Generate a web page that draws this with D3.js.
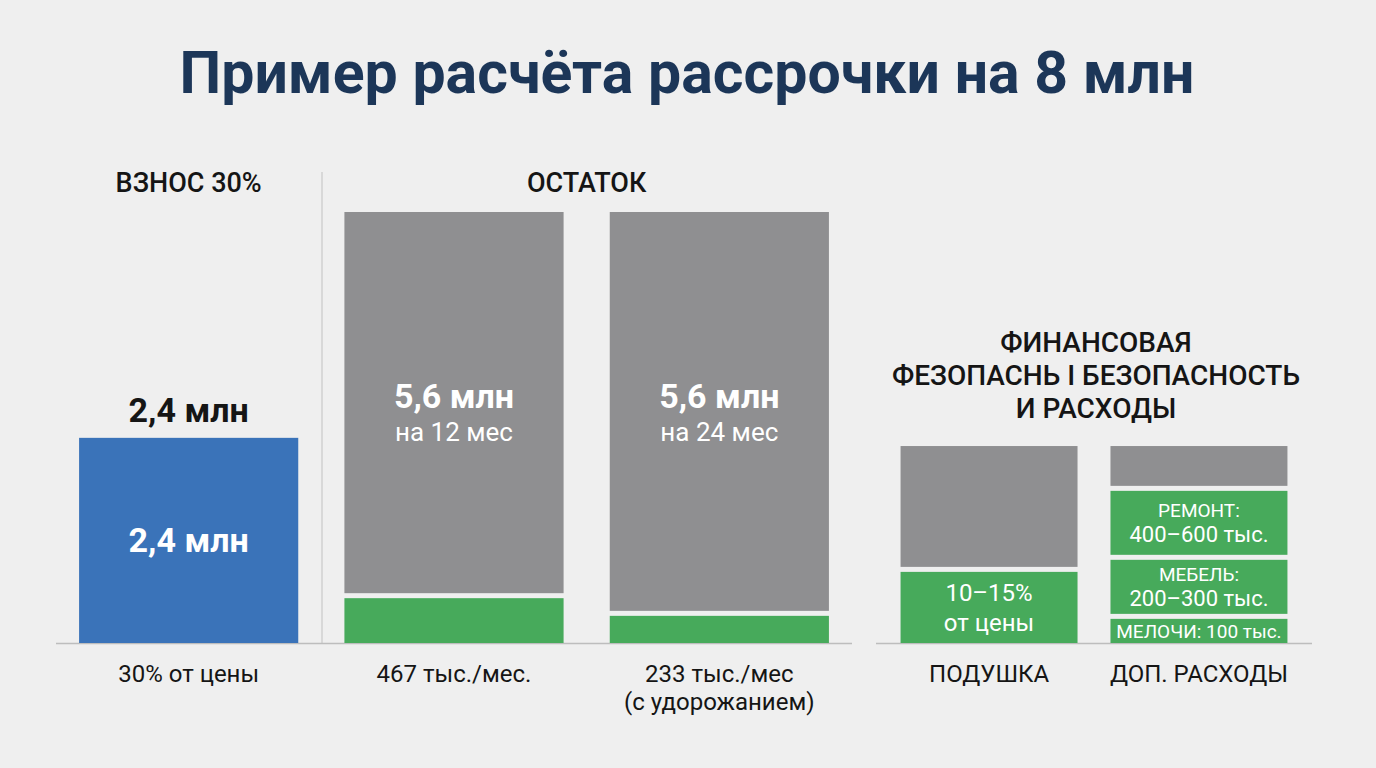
<!DOCTYPE html>
<html>
<head>
<meta charset="utf-8">
<script src="https://cdn.jsdelivr.net/npm/d3@7"></script>
<style>
    body { margin: 0; background: #efefef; }
    svg { display: block; font-family: Roboto, "Noto Sans", sans-serif; }
</style>
</head>
<body>
<svg id="chart" width="1376" height="768"></svg>
<script>
const title = "Пример расчёта рассрочки на 8 млн";

const paymentBars = ["vznos", "rest12", "rest24"];
const paymentHeaders = ["ВЗНОС 30%", "ОСТАТОК"];
const vznosSegments = [47.6];
const rest12Segments = [10.4, 89.6];
const rest24Segments = [6.3, 93.7];
const vznosTopLabel = "2,4 млн";
const vznosLabels = [["2,4 млн"]];
const rest12Labels = [null, ["5,6 млн", "на 12 мес"]];
const rest24Labels = [null, ["5,6 млн", "на 24 мес"]];
const paymentBottom = [["30% от цены"], ["467 тыс./мес."], ["233 тыс./мес", "(с удорожанием)"]];

const reserveBars = ["cushion", "extra"];
const reserveHeader = ["ФИНАНСОВАЯ", "ФЕЗОПАСНЬ І БЕЗОПАСНОСТЬ", "И РАСХОДЫ"];
const cushionSegments = [16.5, 29.2];
const extraSegments = [5.6, 13.7, 16.0, 10.4];
const cushionLabels = [["10–15%", "от цены"], null];
const extraLabels = [["МЕЛОЧИ: 100 тыс."], ["МЕБЕЛЬ:", "200–300 тыс."], ["РЕМОНТ:", "400–600 тыс."], null];
const reserveBottom = ["ПОДУШКА", "ДОП. РАСХОДЫ"];

const colors = { blue: "#3a73b9", gray: "#8f8f91", green: "#47aa5b" };

const svg = d3.select('#chart');
const baseY = 643, gap = 5;

const y = d3.scaleLinear().domain([0, 100]).range([baseY, 212]);

const xPay = d3.scaleBand()
    .domain(paymentBars)
    .range([56, 852])
    .paddingInner(0.174)
    .paddingOuter(0.087);

const xRes = d3.scaleBand()
    .domain(reserveBars)
    .range([876, 1312])
    .paddingInner(0.157)
    .paddingOuter(0.117);

// Title
svg.append('text')
    .attr('x', 687).attr('y', 93)
    .attr('text-anchor', 'middle')
    .style('font-size', '59px').style('font-weight', 700)
    .style('fill', '#1c3658')
    .text(title);

// Separator between payment and remainder
svg.append('line')
    .attr('x1', 322).attr('x2', 322)
    .attr('y1', 172).attr('y2', baseY)
    .attr('stroke', '#d0d0d0').attr('stroke-width', 1.5);

// Baselines
[xPay, xRes].forEach(sc => {
    svg.append('line')
        .attr('x1', sc.range()[0]).attr('x2', sc.range()[1])
        .attr('y1', baseY + 0.5).attr('y2', baseY + 0.5)
        .attr('stroke', '#bdbdbd').attr('stroke-width', 1.5);
});

// line styles per label kind
const styles = {
    value: [{ size: 34, weight: 700 }, { size: 26, weight: 400 }],
    cushion: [{ size: 24, weight: 400 }, { size: 24, weight: 400 }],
    extra: [{ size: 19, weight: 400 }, { size: 22, weight: 400 }]
};
const lineGap = { value: 33, cushion: 30, extra: 25 };

function drawStack(xScale, key, segments, segColors, labels, kind) {
    const g = svg.append('g');
    let acc = 0;
    segments.forEach((v, i) => {
        const y0 = acc, y1 = acc + v;
        acc = y1;
        const bottom = y(y0) - (i > 0 ? gap : 0);
        const top = y(y1);
        g.append('rect')
            .attr('x', xScale(key))
            .attr('width', xScale.bandwidth())
            .attr('y', top)
            .attr('height', bottom - top)
            .attr('fill', colors[segColors[i]]);

        const lines = labels && labels[i];
        if (!lines) return;
        const st = styles[kind];
        const cx = xScale(key) + xScale.bandwidth() / 2;
        const cy = (top + bottom) / 2;
        const cap0 = st[0].size * 0.71;
        let b1;
        if (bottom - top > 300) {
            // tall bars: text hangs at a fixed distance from the top
            b1 = top + 196;
        } else if (lines.length === 1) {
            b1 = cy + cap0 / 2;
        } else {
            b1 = cy - (lineGap[kind] - cap0) / 2;
        }
        lines.forEach((t, j) => {
            g.append('text')
                .attr('x', cx)
                .attr('y', b1 + j * lineGap[kind])
                .attr('text-anchor', 'middle')
                .style('font-size', st[j].size + 'px')
                .style('font-weight', st[j].weight)
                .style('fill', '#fff')
                .text(t);
        });
    });
    return acc;
}

const vznosTop = drawStack(xPay, 'vznos', vznosSegments, ['blue'], vznosLabels, 'value');
drawStack(xPay, 'rest12', rest12Segments, ['green', 'gray'], rest12Labels, 'value');
drawStack(xPay, 'rest24', rest24Segments, ['green', 'gray'], rest24Labels, 'value');
drawStack(xRes, 'cushion', cushionSegments, ['green', 'gray'], cushionLabels, 'cushion');
drawStack(xRes, 'extra', extraSegments, ['green', 'green', 'green', 'gray'], extraLabels, 'extra');

// Value above the down-payment bar
svg.append('text')
    .attr('x', xPay('vznos') + xPay.bandwidth() / 2)
    .attr('y', y(vznosTop) - 16)
    .attr('text-anchor', 'middle')
    .style('font-size', '34px').style('font-weight', 700)
    .style('fill', '#151515')
    .text(vznosTopLabel);

// Group headers
const headerStyle = (sel, size) => sel
    .attr('text-anchor', 'middle')
    .style('font-size', size + 'px').style('font-weight', 500)
    .style('fill', '#151515');

svg.append('text')
    .attr('x', xPay('vznos') + xPay.bandwidth() / 2).attr('y', 192)
    .call(headerStyle, 27).text(paymentHeaders[0]);

svg.append('text')
    .attr('x', (xPay('rest12') + xPay('rest24') + xPay.bandwidth()) / 2).attr('y', 192)
    .call(headerStyle, 27).text(paymentHeaders[1]);

reserveHeader.forEach((t, i) => {
    svg.append('text')
        .attr('x', (xRes.range()[0] + xRes.range()[1]) / 2 + 2)
        .attr('y', 352 + i * 33)
        .call(headerStyle, 28).text(t);
});

// Bottom labels
const bottomStyle = sel => sel
    .attr('text-anchor', 'middle')
    .style('font-size', '24px').style('font-weight', 400)
    .style('fill', '#151515');

paymentBars.forEach((k, i) => {
    paymentBottom[i].forEach((t, j) => {
        svg.append('text')
            .attr('x', xPay(k) + xPay.bandwidth() / 2)
            .attr('y', 682 + j * 28)
            .call(bottomStyle).text(t);
    });
});

reserveBars.forEach((k, i) => {
    svg.append('text')
        .attr('x', xRes(k) + xRes.bandwidth() / 2)
        .attr('y', 682)
        .call(bottomStyle).text(reserveBottom[i]);
});
</script>
</body>
</html>
